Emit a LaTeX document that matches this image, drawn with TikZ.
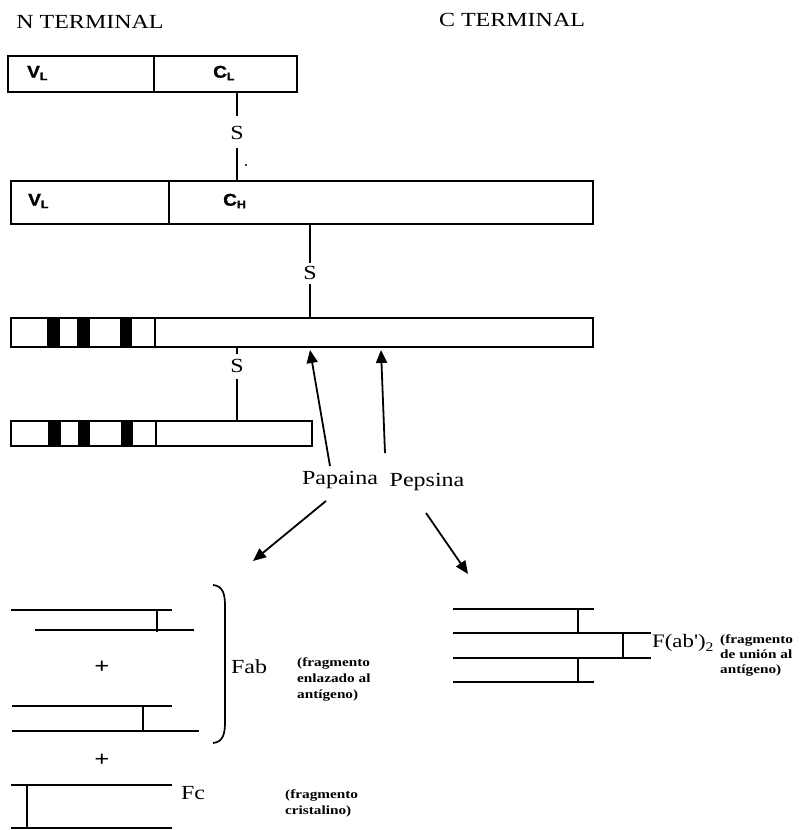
\documentclass[tikz,border=0pt]{standalone}
\usepackage{fontspec}
\setmainfont{Liberation Serif}
\setsansfont{Liberation Sans}
\newfontfamily\lblfont{Liberation Serif}[FakeStretch=1.2]
\newfontfamily\notefont{Liberation Serif}[UprightFont={* Bold}]
\newfontfamily\domfont{Liberation Sans}[UprightFont={* Bold}, FakeBold=1.5]
\usetikzlibrary{arrows.meta,calc}
\newcommand{\dsub}[1]{\raisebox{-2.5pt}{\fontsize{11}{11}\selectfont #1}}
\newcommand{\notetext}[1]{\scalebox{1.22}[1]{\begin{tabular}{@{}l@{}}#1\end{tabular}}}
\newcommand{\domtext}[1]{\scalebox{1.12}[1]{#1}}
\begin{document}
\begin{tikzpicture}[x=1pt,y=-1pt,
  chainbox/.style={draw, line width=1.5pt, inner sep=0, anchor=north west},
  lbl/.style={font=\lblfont\fontsize{20}{24}\selectfont, inner sep=0},
  note/.style={font=\notefont\fontsize{12.5}{16}\selectfont, inner sep=0, anchor=west},
  dom/.style={font=\domfont\fontsize{17}{19}\selectfont, inner sep=0, anchor=west},
  link/.style={line width=1.5pt},
  enz/.style={-{Triangle[length=13pt,width=11pt]}, line width=1.8pt},
  frag/.style={line width=1.5pt},
  plus/.style={font=\lblfont\bfseries\fontsize{22}{22}\selectfont, inner sep=0},
  bar/.style={fill=black}]
\useasboundingbox (0,0) rectangle (811,830);

% titles
\node[lbl] (nterm) at (90,22) {N TERMINAL};
\node[lbl] (cterm) at (512,20) {C TERMINAL};

% light chain
\node[chainbox, minimum width=289pt, minimum height=36pt] (lc) at (7,55) {};
\draw[link] (154,55) -- (154,91);
\node[dom] (vl1) at (27,73) {\domtext{V\dsub{L}}};
\node[dom] (cl) at (213,73) {\domtext{C\dsub{L}}};

% heavy chain
\node[chainbox, minimum width=582pt, minimum height=43pt] (hc) at (10,180) {};
\draw[link] (169,180) -- (169,223);
\node[dom] (vl2) at (28,201) {\domtext{V\dsub{L}}};
\node[dom] (ch) at (223,201) {\domtext{C\dsub{H}}};

% third chain
\node[chainbox, minimum width=582pt, minimum height=29pt] (h3) at (10,317) {};
\draw[link] (155,317) -- (155,346);
\fill[bar] (47,317) rectangle (60,346);
\fill[bar] (77,317) rectangle (90,346);
\fill[bar] (120,317) rectangle (132,346);

% fourth chain
\node[chainbox, minimum width=301pt, minimum height=25pt] (h4) at (10,420) {};
\draw[link] (156,420) -- (156,445);
\fill[bar] (48,420) rectangle (61,445);
\fill[bar] (78,420) rectangle (90,445);
\fill[bar] (121,420) rectangle (133,445);

% disulfide links
\node[lbl] (s1) at (237,133) {S};
\draw[link] (s1 |- lc.south) -- (237,116);
\draw[link] (237,148) -- (s1 |- hc.north);
\fill (246,165) circle (1.1pt);

\node[lbl] (s2) at (310,273) {S};
\draw[link] (s2 |- hc.south) -- (310,263);
\draw[link] (310,284) -- (s2 |- h3.north);

\node[lbl] (s3) at (237,366) {S};
\draw[link] (s3 |- h3.south) -- (237,354);
\draw[link] (237,379) -- (s3 |- h4.north);

% enzymes
\node[lbl] (pap) at (340,480) {Papaina};
\node[lbl] (pep) at (427,482) {Pepsina};
\coordinate (paptip) at (310,350);
\coordinate (peptip) at (381,350);
\draw[enz] ($(pap.north)+(-10,-5)$) -- (paptip);
\draw[enz] ($(pep.north)+(-42,-20)$) -- (peptip);
\coordinate (fabtip) at (253,561);
\coordinate (f2tip) at (468,574);
\draw[enz] ($(pap.south)+(-14,12)$) -- (fabtip);
\draw[enz] ($(pep.south)+(-1,22)$) -- (f2tip);

% Fab fragments
\draw[frag] (11,610) -- (172,610);
\draw[frag] (35,630) -- (194,630);
\draw[frag] (157,610) -- (157,632);
\node[plus] (plus1) at (102,667) {+};
\draw[frag] (12,706) -- (172,706);
\draw[frag] (12,731) -- (199,731);
\draw[frag] (143,706) -- (143,731);
\node[plus] (plus2) at (102,760) {+};
\draw[line width=1.7pt] (213,585) .. controls (223,586) and (225,594) .. (225,606) -- (225,722) .. controls (225,734) and (223,742) .. (213,743);
\node[lbl] (fab) at (249,667) {Fab};
\node[note] (fabnote) at (297,679) {\notetext{(fragmento\\enlazado al\\antígeno)}};

% Fc fragment
\draw[frag] (11,785) -- (172,785);
\draw[frag] (11,828) -- (172,828);
\draw[frag] (27,785) -- (27,828);
\node[lbl] (fc) at (193,793) {Fc};
\node[note] (fcnote) at (285,803) {\notetext{(fragmento\\cristalino)}};

% F(ab')2 fragment
\draw[frag] (453,609) -- (594,609);
\draw[frag] (453,633) -- (651,633);
\draw[frag] (453,658) -- (651,658);
\draw[frag] (453,682) -- (594,682);
\draw[frag] (578,609) -- (578,633);
\draw[frag] (623,633) -- (623,658);
\draw[frag] (578,658) -- (578,682);
\node[lbl, anchor=west, font=\lblfont\fontsize{19}{22}\selectfont] (fab2) at (652,643) {F(ab')\raisebox{-4pt}{\fontsize{13}{13}\selectfont 2}};
\node[note, font=\notefont\fontsize{12.5}{15}\selectfont] (fab2note) at (720,655) {\notetext{(fragmento\\de unión al\\antígeno)}};
\end{tikzpicture}
\end{document}
